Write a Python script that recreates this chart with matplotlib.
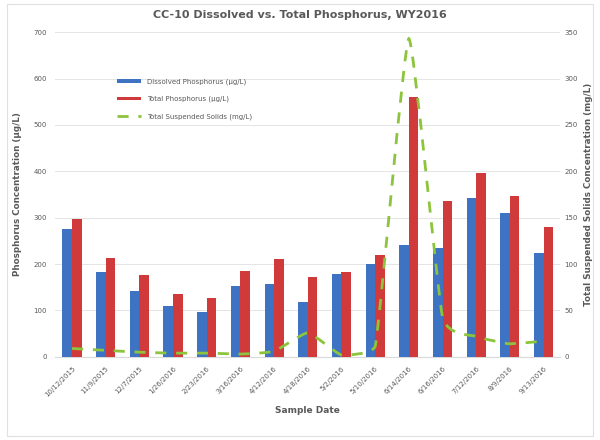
import matplotlib.pyplot as plt
from matplotlib.path import Path
from matplotlib.patches import PathPatch
import numpy as np

dates = ["10/12/2015", "11/9/2015", "12/7/2015", "1/26/2016", "2/23/2016",
         "3/16/2016", "4/12/2016", "4/18/2016", "5/2/2016", "5/10/2016",
         "6/14/2016", "6/16/2016", "7/12/2016", "8/9/2016", "9/13/2016"]
dissolved_p = [275, 182, 143, 109, 97, 153, 158, 118, 178, 201, 241, 235, 342, 310, 223]
total_p = [297, 214, 176, 135, 127, 185, 210, 172, 182, 220, 561, 337, 396, 346, 279]
tss = [9, 7, 5, 4, 4, 3, 6, 26, 2, 11, 343, 43, 22, 14, 17]

grey = "#595959"
blue = "#3E72C3"
red = "#D03A3A"
green = "#8CC43C"


def smooth_path(xs, ys, k=1/14):
    # lightly smoothed line through the points; control points kept between
    # neighbouring values so the curve does not overshoot
    pts = np.column_stack([xs, ys]).astype(float)
    n = len(pts)
    verts = [pts[0]]
    codes = [Path.MOVETO]
    for i in range(n - 1):
        p0 = pts[i - 1] if i > 0 else pts[i]
        p1 = pts[i]
        p2 = pts[i + 1]
        p3 = pts[i + 2] if i + 2 < n else pts[i + 1]
        c1 = p1 + (p2 - p0) * k
        c2 = p2 - (p3 - p1) * k
        lo, hi = min(p1[1], p2[1]), max(p1[1], p2[1])
        c1[1] = np.clip(c1[1], lo, hi)
        c2[1] = np.clip(c2[1], lo, hi)
        verts += [c1, c2, p2]
        codes += [Path.CURVE4] * 3
    return Path(verts, codes)


fig = plt.figure(figsize=(6, 4.4), dpi=100)
ax = fig.add_axes([0.092, 0.189, 0.842, 0.738])
ax2 = ax.twinx()

x = np.arange(len(dates))
width = 0.285
ax.bar(x - width/2, dissolved_p, width, color=blue, label="Dissolved Phosphorus (µg/L)", zorder=3)
ax.bar(x + width/2, total_p, width, color=red, label="Total Phosphorus (µg/L)", zorder=3)

tss_patch = PathPatch(smooth_path(x, tss), fill=False, edgecolor=green, lw=2,
                      linestyle=(0, (4, 3.5)))
ax2.add_patch(tss_patch)
tss_handle, = ax2.plot([], [], color=green, lw=2, dashes=(4, 3.5),
                       label="Total Suspended Solids (mg/L)")

ax.set_xlim(-0.5, len(dates) - 0.5)
ax.set_ylim(0, 700)
ax.set_yticks(range(0, 701, 100))
ax2.set_ylim(0, 350)
ax2.set_yticks(range(0, 351, 50))
ax.grid(axis="y", color="#e4e4e4", lw=0.7, zorder=0)

ax.set_xticks(x)
ax.set_xticklabels(dates, rotation=45, ha="right", rotation_mode="anchor")
ax.tick_params(length=0, labelsize=5, labelcolor=grey, pad=6)
ax2.tick_params(length=0, labelsize=5, labelcolor=grey, pad=3)
for a in (ax, ax2):
    for s in a.spines.values():
        s.set_visible(False)
ax.spines["bottom"].set_visible(True)
ax.spines["bottom"].set_color("#d9d9d9")

ax.set_ylabel("Phosphorus Concentration (µg/L)", fontsize=6.3, color=grey, fontweight="bold", labelpad=8)
ax2.set_ylabel("Total Suspended Solids Concentration (mg/L)", fontsize=6.3, color=grey, fontweight="bold", labelpad=4)
ax.set_xlabel("Sample Date", fontsize=6.5, color=grey, fontweight="bold", labelpad=6)
fig.text(0.5, 0.965, "CC-10 Dissolved vs. Total Phosphorus, WY2016", ha="center", va="center",
         fontsize=8, color=grey, fontweight="bold")

h1, l1 = ax.get_legend_handles_labels()
ax.legend(h1 + [tss_handle], l1 + [tss_handle.get_label()], loc="upper left",
          bbox_to_anchor=(0.11, 0.877), frameon=False, fontsize=5, labelcolor=grey,
          handlelength=3.5, handleheight=0.4, labelspacing=1.6)

# light border round the whole figure
fig.patches.append(plt.Rectangle((0.012, 0.01), 0.976, 0.98, transform=fig.transFigure,
                                 fill=False, edgecolor="#e0e0e0", lw=0.8))

plt.savefig("out.png", dpi=100)
